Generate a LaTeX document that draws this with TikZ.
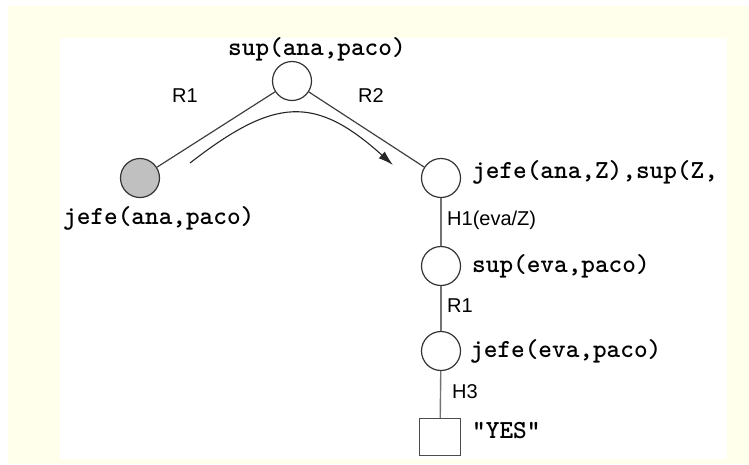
\documentclass[tikz,border=0pt]{standalone}
\usepackage{fontspec}
\setmainfont{Liberation Sans}
\usetikzlibrary{arrows.meta}
\definecolor{cream}{RGB}{255,255,236}
\definecolor{nodegray}{RGB}{192,192,192}
\begin{document}
\begin{tikzpicture}[x=1pt,y=-1pt,
  goal/.style={circle,draw=black!80,line width=1.2pt,minimum size=39pt,inner sep=0pt,fill=white},
  done/.style={goal,fill=nodegray},
  sq/.style={rectangle,draw=black!70,line width=1.2pt,minimum width=41pt,minimum height=37pt,inner sep=0pt,fill=white},
  lit/.style={font=\ttfamily\bfseries\fontsize{26}{30}\selectfont,inner sep=0pt,anchor=base west},
  rulelbl/.style={font=\fontsize{20}{24}\selectfont,inner sep=0pt,anchor=base west},
  link/.style={draw=black!75,line width=1.2pt},
  vlink/.style={draw=black!55,line width=1.4pt}]
\useasboundingbox (0,0) rectangle (749,464);
\fill[white] (0,0) rectangle (749,464);
\fill[cream] (8,6) rectangle (749,464);
\fill[white] (60,38) rectangle (727,459);

% goal nodes
\node[done] (g) at (140,178) {};
\node[goal] (t) at (292,81) {};
\node[goal] (a) at (441,178) {};
\node[goal] (b) at (441,266) {};
\node[goal] (c) at (441,351) {};
\node[sq] (y) at (440,437) {};

% connectors
\draw[link] (g) -- (t);
\draw[link] (t) -- (a);
\draw[vlink] (a) -- (b);
\draw[vlink] (b) -- (c);
\draw[vlink] (c) -- (y);

% curved arrow
\coordinate (s) at (190,163);
\coordinate (e) at (393,165);
\draw[draw=black!85,line width=1.1pt,-{Latex[length=15pt,width=9pt]}] (s) .. controls (275,97) and (315,95) .. (e);

% goal labels
\node[lit] (lt) at (228,55) {sup(ana,paco)};
\node[lit] (lg) at (63,224) {jefe(ana,paco)};
\node[lit] (la) at (472,178) {jefe(ana,Z),sup(Z,};
\node[lit] (lb) at (472,272) {sup(eva,paco)};
\node[lit] (lc) at (470,357) {jefe(eva,paco)};
\node[lit] (ly) at (472,438) {"YES"};

% rule labels
\node[rulelbl] (r1) at (172,102) {R1};
\node[rulelbl] (r2) at (358,102) {R2};
\node[rulelbl] (h1) at (447,225) {H1(eva/Z)};
\node[rulelbl] (r1b) at (447,312) {R1};
\node[rulelbl] (h3) at (452,398) {H3};
\end{tikzpicture}
\end{document}
